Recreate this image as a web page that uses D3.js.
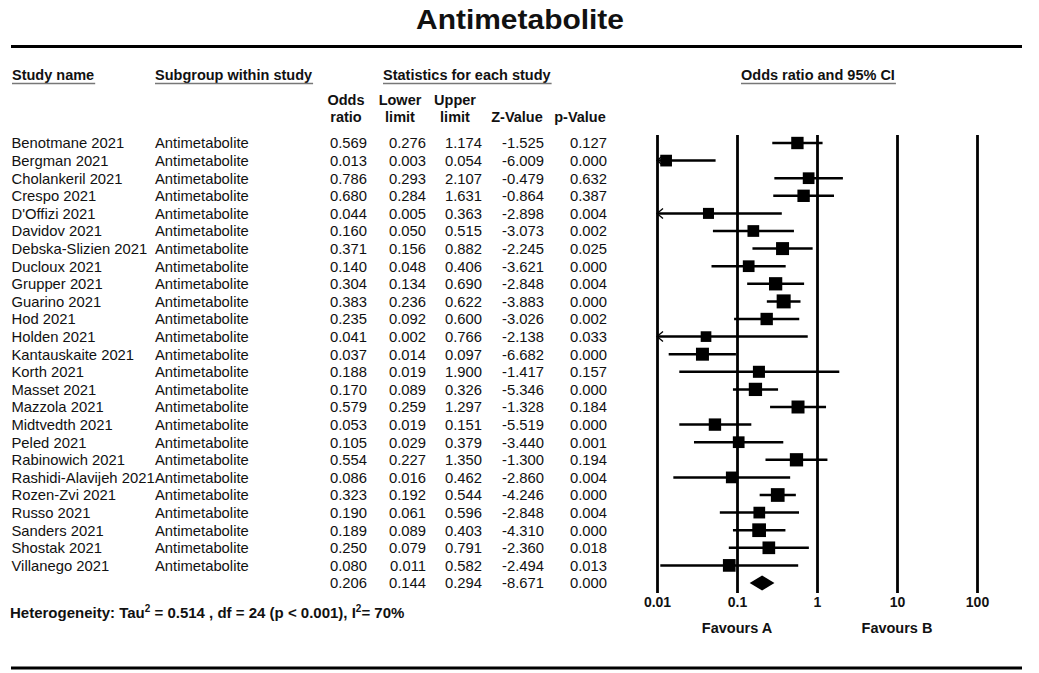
<!DOCTYPE html>
<html>
<head>
<meta charset="utf-8">
<script src="https://cdn.jsdelivr.net/npm/d3@7"></script>
<style>
  html, body { margin: 0; padding: 0; background: #fff; }
  svg { display: block; }
  text { font-family: "Liberation Sans", Arial, Helvetica, sans-serif; fill: #111; }
</style>
</head>
<body>
<svg id="chart" width="1039" height="673"></svg>
<script>
// ---- Study data ----
const studies = [
  "Benotmane 2021", "Bergman 2021", "Cholankeril 2021", "Crespo 2021", "D'Offizi 2021",
  "Davidov 2021", "Debska-Slizien 2021", "Ducloux 2021", "Grupper 2021", "Guarino 2021",
  "Hod 2021", "Holden 2021", "Kantauskaite 2021", "Korth 2021", "Masset 2021",
  "Mazzola 2021", "Midtvedth 2021", "Peled 2021", "Rabinowich 2021", "Rashidi-Alavijeh 2021",
  "Rozen-Zvi 2021", "Russo 2021", "Sanders 2021", "Shostak 2021", "Villanego 2021"
];
const subgroupLabel = "Antimetabolite";
const oddsRatio = [0.569, 0.013, 0.786, 0.680, 0.044, 0.160, 0.371, 0.140, 0.304, 0.383,
                   0.235, 0.041, 0.037, 0.188, 0.170, 0.579, 0.053, 0.105, 0.554, 0.086,
                   0.323, 0.190, 0.189, 0.250, 0.080];
const lowerLimit = [0.276, 0.003, 0.293, 0.284, 0.005, 0.050, 0.156, 0.048, 0.134, 0.236,
                    0.092, 0.002, 0.014, 0.019, 0.089, 0.259, 0.019, 0.029, 0.227, 0.016,
                    0.192, 0.061, 0.089, 0.079, 0.011];
const upperLimit = [1.174, 0.054, 2.107, 1.631, 0.363, 0.515, 0.882, 0.406, 0.690, 0.622,
                    0.600, 0.766, 0.097, 1.900, 0.326, 1.297, 0.151, 0.379, 1.350, 0.462,
                    0.544, 0.596, 0.403, 0.791, 0.582];
const zValue = [-1.525, -6.009, -0.479, -0.864, -2.898, -3.073, -2.245, -3.621, -2.848, -3.883,
                -3.026, -2.138, -6.682, -1.417, -5.346, -1.328, -5.519, -3.440, -1.300, -2.860,
                -4.246, -2.848, -4.310, -2.360, -2.494];
const pValue = [0.127, 0.000, 0.632, 0.387, 0.004, 0.002, 0.025, 0.000, 0.004, 0.000,
                0.002, 0.033, 0.000, 0.157, 0.000, 0.184, 0.000, 0.001, 0.194, 0.004,
                0.000, 0.004, 0.000, 0.018, 0.013];
// relative weight (%) of each study, drives the box size
const relWeight = [3.9, 3.5, 3.5, 3.9, 3.1, 3.5, 4.3, 3.5, 4.5, 5.0,
                   3.9, 2.9, 4.3, 3.7, 4.5, 4.3, 3.9, 3.5, 4.5, 3.5,
                   4.8, 3.5, 4.8, 4.1, 4.1];
// pooled estimate: OR, lower, upper, Z, p
const pooledStats = [0.206, 0.144, 0.294, -8.671, 0.000];
const axisTicks = [0.01, 0.1, 1, 10, 100];
const favourLabels = ["Favours A", "Favours B"];

// ---- Layout ----
const svg = d3.select("#chart");
const fmt = v => v.toFixed(3);
const nRows = studies.length + 1;

const x = d3.scaleLog().domain([0.01, 100]).range([657, 977]);
const y = d3.scaleLinear().domain([0, nRows - 1]).range([143, 583]);
const boxSide = d3.scaleSqrt().domain([0, 5]).range([0, 14]);

// Title and frame rules
svg.append("text")
  .attr("x", 520).attr("y", 29)
  .attr("text-anchor", "middle")
  .attr("font-size", 28).attr("font-weight", "bold")
  .attr("textLength", 208).attr("lengthAdjust", "spacingAndGlyphs")
  .text("Antimetabolite");

svg.append("line").attr("x1", 11).attr("x2", 1022).attr("y1", 46.5).attr("y2", 46.5)
  .attr("stroke", "#000").attr("stroke-width", 3);
svg.append("line").attr("x1", 11).attr("x2", 1022).attr("y1", 668).attr("y2", 668)
  .attr("stroke", "#000").attr("stroke-width", 3);

// Section headings with underline
const sections = [
  { t: "Study name", x: 12, anchor: "start" },
  { t: "Subgroup within study", x: 155, anchor: "start" },
  { t: "Statistics for each study", x: 383, anchor: "start" },
  { t: "Odds ratio and 95% CI", x: 741, anchor: "start" }
];
sections.forEach(s => {
  const t = svg.append("text")
    .attr("x", s.x).attr("y", 80)
    .attr("font-size", 14.5).attr("font-weight", "bold")
    .attr("text-anchor", s.anchor)
    .text(s.t);
  const bb = t.node().getBBox();
  svg.append("line")
    .attr("x1", bb.x).attr("x2", bb.x + bb.width + 1)
    .attr("y1", 83.5).attr("y2", 83.5)
    .attr("stroke", "#777").attr("stroke-width", 1.6);
});

// Column headers for statistics
const colHeads = [
  { l1: "Odds", l2: "ratio", cx: 346 },
  { l1: "Lower", l2: "limit", cx: 400 },
  { l1: "Upper", l2: "limit", cx: 455 },
  { l1: "", l2: "Z-Value", cx: 517 },
  { l1: "", l2: "p-Value", cx: 580 }
];
colHeads.forEach(h => {
  [h.l1, h.l2].forEach((s, i) => {
    if (!s) return;
    svg.append("text")
      .attr("x", h.cx).attr("y", 105 + i * 17)
      .attr("text-anchor", "middle")
      .attr("font-size", 14.5).attr("font-weight", "bold")
      .text(s);
  });
});

// Table body
const colRight = [367, 426, 482, 544, 607];
const columns = [oddsRatio, lowerLimit, upperLimit, zValue, pValue];
const body = svg.append("g").attr("font-size", 14.8);

studies.forEach((name, i) => {
  const yy = y(i) + 5.3;
  body.append("text").attr("x", 11.5).attr("y", yy).text(name);
  body.append("text").attr("x", 155).attr("y", yy).text(subgroupLabel);
  columns.forEach((col, c) => {
    body.append("text").attr("x", colRight[c]).attr("y", yy)
      .attr("text-anchor", "end").text(fmt(col[i]));
  });
});
pooledStats.forEach((v, c) => {
  body.append("text").attr("x", colRight[c]).attr("y", y(nRows - 1) + 5.3)
    .attr("text-anchor", "end").text(fmt(v));
});

// Heterogeneity line
const het = svg.append("text")
  .attr("x", 10).attr("y", 618)
  .attr("font-family", "Lato, 'Open Sans', sans-serif")
  .attr("font-size", 15).attr("font-weight", "bold");
het.append("tspan").text("Heterogeneity: Tau");
het.append("tspan").attr("dy", -6).attr("font-size", 10).text("2");
het.append("tspan").attr("dy", 6).text(" = 0.514 , df = 24 (p < 0.001), I");
het.append("tspan").attr("dy", -6).attr("font-size", 10).text("2");
het.append("tspan").attr("dy", 6).text("= 70%");

// ---- Forest plot ----
const plotTop = 135, plotBottom = 593;
const axis = d3.axisBottom(x)
  .tickValues(axisTicks)
  .tickFormat(d3.format("~g"))
  .tickSizeInner(-(plotBottom - plotTop))
  .tickSizeOuter(0)
  .tickPadding(4);
const gAxis = svg.append("g").attr("transform", `translate(0,${plotBottom})`).call(axis);
gAxis.select(".domain").remove();
gAxis.selectAll(".tick line").attr("stroke", "#000").attr("stroke-width", 2.8);
gAxis.selectAll(".tick text")
  .attr("fill", "#111")
  .attr("font-family", "'Liberation Sans', Arial, sans-serif")
  .attr("font-size", 14).attr("font-weight", "bold");

// Favours labels under 0.1 and 10
[0.1, 10].forEach((v, i) => {
  svg.append("text")
    .attr("x", x(v)).attr("y", 633)
    .attr("text-anchor", "middle")
    .attr("font-size", 14.5).attr("font-weight", "bold")
    .text(favourLabels[i]);
});

// CI lines, arrows for truncated intervals, and weighted boxes
const [xMin, xMax] = x.domain();
const marks = svg.append("g");
studies.forEach((name, i) => {
  const yy = y(i);
  const lo = Math.max(lowerLimit[i], xMin);
  const hi = Math.min(upperLimit[i], xMax);
  marks.append("line")
    .attr("x1", x(lo)).attr("x2", x(hi)).attr("y1", yy).attr("y2", yy)
    .attr("stroke", "#000").attr("stroke-width", 2.5);
  if (lowerLimit[i] < xMin) {
    const ax = x(xMin);
    marks.append("path")
      .attr("d", `M${ax + 6},${yy - 5}L${ax},${yy}L${ax + 6},${yy + 5}`)
      .attr("fill", "none").attr("stroke", "#000").attr("stroke-width", 1.3);
  }
});
studies.forEach((name, i) => {
  const s = boxSide(relWeight[i]);
  marks.append("rect")
    .attr("x", x(oddsRatio[i]) - s / 2).attr("y", y(i) - s / 2)
    .attr("width", s).attr("height", s)
    .attr("fill", "#000");
});

// Pooled diamond
const py = y(nRows - 1);
marks.append("path")
  .attr("d", `M${x(pooledStats[1])},${py}L${x(pooledStats[0])},${py - 7.5}L${x(pooledStats[2])},${py}L${x(pooledStats[0])},${py + 7.5}Z`)
  .attr("fill", "#000");
</script>
</body>
</html>
